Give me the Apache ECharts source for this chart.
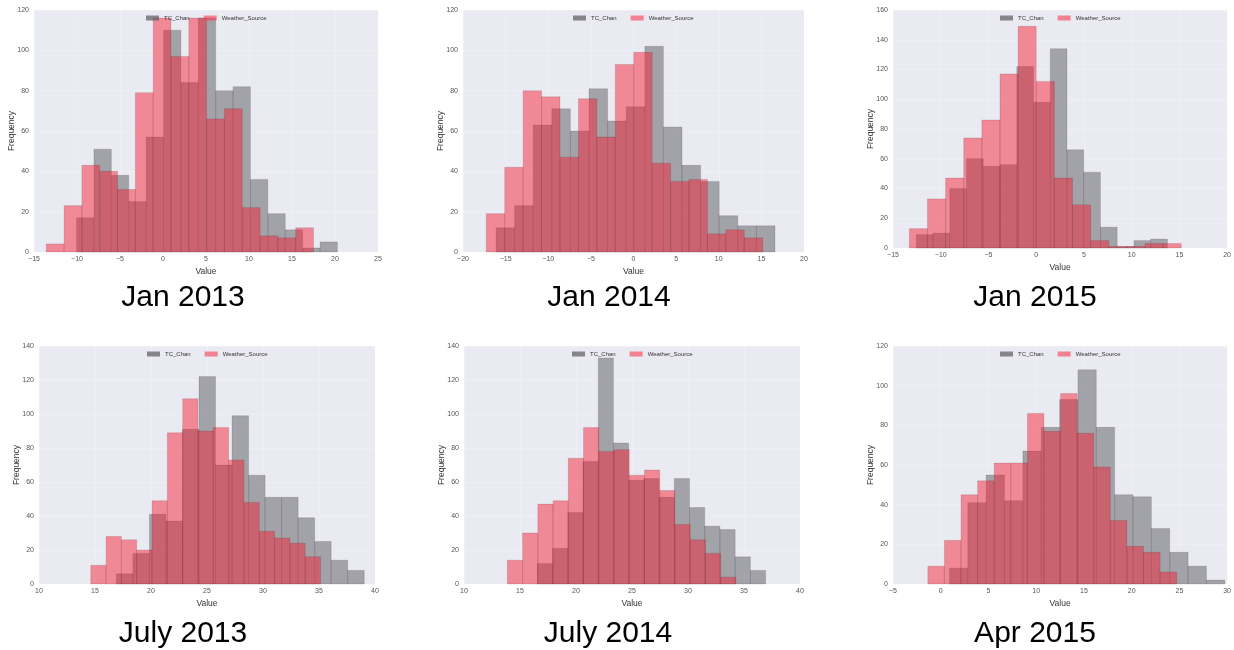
<!DOCTYPE html>
<html>
<head>
<meta charset="utf-8">
<script src="https://cdn.jsdelivr.net/npm/echarts@6/dist/echarts.min.js"></script>
<style>
html,body{margin:0;padding:0;background:#fff;}
#chart{width:1234px;height:650px;}
</style>
</head>
<body>
<div id="chart"></div>
<script>
// ---- Data (histogram counts, 15 bins each; bin range start/end) ----
const captions = ['Jan 2013', 'Jan 2014', 'Jan 2015', 'July 2013', 'July 2014', 'Apr 2015'];
const seriesNames = ['TC_Chan', 'Weather_Source'];

const tcRange = [[-10.05, 20.28], [-16.13, 16.6], [-12.56, 13.75], [16.91, 39.04], [16.55, 36.93], [0.91, 29.76]];
const wsRange = [[-13.57, 17.5], [-17.27, 15.16], [-13.29, 15.2], [14.62, 35.14], [13.87, 34.28], [-1.35, 24.72]];

const tcJan2013 = [17, 51, 38, 25, 57, 110, 84, 116, 80, 82, 36, 19, 11, 2, 5];
const wsJan2013 = [4, 23, 43, 40, 31, 79, 116, 97, 116, 66, 71, 22, 8, 7, 12];
const tcJan2014 = [12, 23, 63, 71, 60, 81, 65, 72, 102, 62, 43, 35, 18, 13, 13];
const wsJan2014 = [19, 42, 80, 77, 47, 76, 57, 93, 99, 44, 35, 36, 9, 11, 7];
const tcJan2015 = [9, 10, 40, 60, 55, 56, 122, 98, 134, 66, 51, 14, 1, 5, 6];
const wsJan2015 = [13, 33, 47, 74, 86, 117, 149, 112, 47, 29, 5, 1, 1, 3, 3];
const tcJul2013 = [6, 18, 41, 37, 91, 122, 70, 99, 64, 51, 51, 39, 25, 14, 8];
const wsJul2013 = [11, 28, 26, 20, 49, 89, 109, 90, 92, 73, 48, 31, 27, 24, 16];
const tcJul2014 = [12, 21, 42, 72, 133, 83, 61, 62, 51, 62, 45, 34, 32, 16, 8];
const wsJul2014 = [14, 30, 47, 49, 74, 92, 78, 79, 64, 67, 55, 35, 26, 18, 4];
const tcApr2015 = [8, 41, 55, 42, 67, 79, 93, 108, 79, 45, 44, 28, 16, 9, 2];
const wsApr2015 = [9, 22, 45, 52, 61, 61, 86, 77, 96, 76, 59, 32, 19, 16, 6];

const tcCounts = [tcJan2013, tcJan2014, tcJan2015, tcJul2013, tcJul2014, tcApr2015];
const wsCounts = [wsJan2013, wsJan2014, wsJan2015, wsJul2013, wsJul2014, wsApr2015];

// axis ticks: [min, max, interval]
const xTicks = [[-15, 25, 5], [-20, 20, 5], [-15, 20, 5], [10, 40, 5], [10, 40, 5], [-5, 30, 5]];
const yTicks = [[0, 120, 20], [0, 120, 20], [0, 160, 20], [0, 140, 20], [0, 140, 20], [0, 120, 20]];

// ---- Layout ----
const grids = [
  {left: 34, top: 10, width: 344, height: 242},
  {left: 463, top: 10, width: 341, height: 242},
  {left: 893, top: 10, width: 335, height: 238},
  {left: 39, top: 346, width: 336, height: 238},
  {left: 464, top: 346, width: 336, height: 238},
  {left: 893, top: 346, width: 335, height: 238}
];
const captionPos = [[183, 298], [609, 298], [1035, 298], [183, 634], [608, 634], [1035, 634]];

const GRAY = 'rgba(90,90,96,0.5)';
const RED = 'rgba(246,30,50,0.48)';
const FONT = '"Liberation Sans", Arial, sans-serif';

function binRows(range, counts) {
  const w = (range[1] - range[0]) / counts.length;
  return counts.map((c, i) => [range[0] + i * w, range[0] + (i + 1) * w, c]);
}

function makeRender(fill) {
  return function (params, api) {
    const p0 = api.coord([api.value(0), api.value(2)]);
    const p1 = api.coord([api.value(1), 0]);
    return {
      type: 'rect',
      shape: {x: p0[0], y: p0[1], width: p1[0] - p0[0], height: p1[1] - p0[1]},
      style: {fill: fill, stroke: 'rgba(40,0,0,0.2)', lineWidth: 0.6}
    };
  };
}

const minus = v => String(v).replace('-', '\u2212');

const option = {
  animation: false,
  grid: [], xAxis: [], yAxis: [], series: [], legend: [], graphic: []
};

for (let i = 0; i < 6; i++) {
  const g = grids[i];
  option.grid.push(Object.assign({show: true, backgroundColor: '#EAEAF2', borderWidth: 0, containLabel: false}, g));
  option.xAxis.push({
    type: 'value', gridIndex: i,
    min: xTicks[i][0], max: xTicks[i][1], interval: xTicks[i][2],
    name: 'Value', nameLocation: 'middle', nameGap: 15, nameMoveOverlap: false,
    nameTextStyle: {fontSize: 8.5, color: '#333', fontFamily: FONT},
    axisLine: {show: false}, axisTick: {show: false},
    axisLabel: {fontSize: 7, color: '#555', margin: 4, fontFamily: FONT, formatter: minus},
    splitLine: {show: true, lineStyle: {color: 'rgba(255,255,255,0.22)', width: 1}}
  });
  option.yAxis.push({
    type: 'value', gridIndex: i,
    min: yTicks[i][0], max: yTicks[i][1], interval: yTicks[i][2],
    name: 'Frequency', nameLocation: 'middle', nameGap: 18, nameMoveOverlap: false,
    nameTextStyle: {fontSize: 8.5, color: '#333', fontFamily: FONT},
    axisLine: {show: false}, axisTick: {show: false},
    axisLabel: {fontSize: 7, color: '#555', margin: 5, fontFamily: FONT},
    splitLine: {show: true, lineStyle: {color: 'rgba(255,255,255,0.22)', width: 1}}
  });
  option.series.push({
    type: 'custom', name: seriesNames[0], xAxisIndex: i, yAxisIndex: i,
    itemStyle: {color: GRAY},
    renderItem: makeRender(GRAY), encode: {x: [0, 1], y: 2},
    data: binRows(tcRange[i], tcCounts[i]), z: 2
  });
  option.series.push({
    type: 'custom', name: seriesNames[1], xAxisIndex: i, yAxisIndex: i,
    itemStyle: {color: RED},
    renderItem: makeRender(RED), encode: {x: [0, 1], y: 2},
    data: binRows(wsRange[i], wsCounts[i]), z: 3
  });
  option.legend.push({
    data: [{name: seriesNames[0], icon: 'rect', itemStyle: {color: 'rgba(90,90,96,0.7)'}},
           {name: seriesNames[1], icon: 'rect', itemStyle: {color: 'rgba(246,60,80,0.6)'}}],
    left: g.left + g.width / 2, top: g.top + 5, padding: 0,
    itemWidth: 13, itemHeight: 5, itemGap: 14,
    textStyle: {fontSize: 6, color: '#333', fontFamily: FONT},
    selectedMode: false
  });
  option.graphic.push({
    type: 'text', x: captionPos[i][0], y: captionPos[i][1],
    style: {text: captions[i], font: '30px ' + FONT, fill: '#000', textAlign: 'center', textVerticalAlign: 'middle'}
  });
}

const chart = echarts.init(document.getElementById('chart'), null, {renderer: 'canvas'});
chart.setOption(option);
// center each legend on its plot using the measured legend width
const model = chart.getModel();
const newLegends = option.legend.map((lg, i) => {
  const comp = model.getComponent('legend', i);
  const view = chart.getViewOfComponentModel(comp);
  const rect = view && view.group ? view.group.getBoundingRect() : null;
  const w = rect ? rect.width : 110;
  const g = grids[i];
  return {left: Math.round(g.left + g.width / 2 - w / 2)};
});
chart.setOption({legend: newLegends});
</script>
</body>
</html>
